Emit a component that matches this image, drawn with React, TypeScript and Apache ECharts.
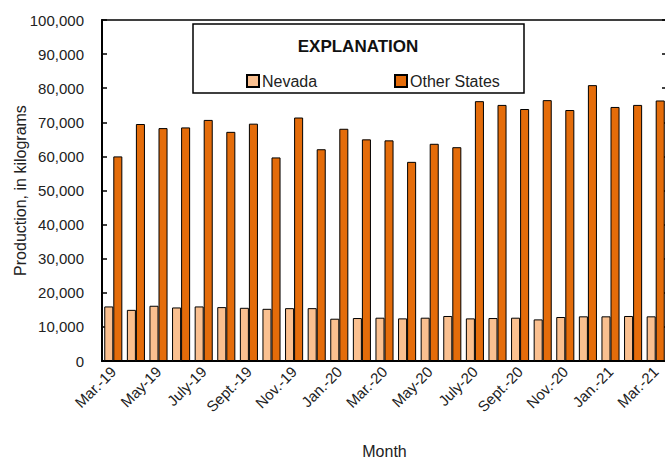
import React, { useEffect, useRef } from "react";
import * as echarts from "echarts";

const months = [
  "Mar.-19", "Apr.-19", "May-19", "June-19", "July-19", "Aug.-19", "Sept.-19", "Oct.-19", "Nov.-19", "Dec.-19",
  "Jan.-20", "Feb.-20", "Mar.-20", "Apr.-20", "May-20", "June-20", "July-20", "Aug.-20", "Sept.-20", "Oct.-20",
  "Nov.-20", "Dec.-20", "Jan.-21", "Feb.-21", "Mar.-21",
];

const nevada = [
  16000, 15000, 16200, 15700, 16000, 15800, 15600, 15300, 15500, 15500,
  12400, 12600, 12700, 12500, 12700, 13200, 12500, 12600, 12700, 12200,
  12900, 13100, 13100, 13200, 13100,
];

const otherStates = [
  60000, 69500, 68300, 68500, 70700, 67200, 69600, 59700, 71400, 62100,
  68100, 65000, 64700, 58400, 63700, 62700, 76200, 75100, 73900, 76500,
  73600, 80900, 74500, 75100, 76400,
];

const FONT = "'Liberation Sans', Arial, sans-serif";

export default function App() {
  const ref = useRef<HTMLDivElement>(null);
  useEffect(() => {
    if (!ref.current) return;
    const chart = echarts.init(ref.current, undefined, { renderer: "svg" });
    chart.setOption({
      animation: false,
      backgroundColor: "#ffffff",
      textStyle: { fontFamily: FONT },
      grid: {
        left: 102,
        top: 20,
        width: 565,
        height: 341,
        outerBoundsMode: "none",
        containLabel: false,
        show: true,
        borderColor: "#000",
        borderWidth: 1.5,
        backgroundColor: "transparent",
      },
      graphic: [
        {
          type: "rect",
          shape: { x: 193, y: 24, width: 331, height: 69 },
          style: { fill: "#fff", stroke: "#000", lineWidth: 1.5 },
          z: 10,
        },
        {
          type: "text",
          x: 358,
          y: 46,
          style: {
            text: "EXPLANATION",
            fontFamily: FONT,
            fontWeight: "bold",
            fontSize: 17,
            fill: "#111",
            align: "center",
            verticalAlign: "middle",
          },
          z: 11,
        },
      ],
      legend: [
        {
          data: ["Nevada"],
          left: 241,
          top: 68,
          itemWidth: 12,
          itemHeight: 12,
          icon: "rect",
          textStyle: { fontFamily: FONT, fontSize: 16, color: "#222", padding: [0, 0, 0, -2] },
          z: 12,
        },
        {
          data: ["Other States"],
          left: 389,
          top: 68,
          itemWidth: 12,
          itemHeight: 12,
          icon: "rect",
          textStyle: { fontFamily: FONT, fontSize: 16, color: "#222", padding: [0, 0, 0, -2] },
          z: 12,
        },
      ],
      xAxis: {
        type: "category",
        data: months,
        name: "Month",
        nameLocation: "middle",
        nameGap: 82,
        nameMoveOverlap: false,
        nameTextStyle: { fontFamily: FONT, fontSize: 16, color: "#222" },
        axisLine: { lineStyle: { color: "#000", width: 2 } },
        axisTick: { show: false },
        axisLabel: {
          interval: 1,
          rotate: 45,
          fontFamily: FONT,
          fontSize: 15,
          color: "#222",
          margin: 8,
        },
      },
      yAxis: [
        {
          type: "value",
          min: 0,
          max: 100000,
          interval: 10000,
          name: "Production, in kilograms",
          nameLocation: "middle",
          nameGap: 74,
          nameMoveOverlap: false,
          nameTextStyle: { fontFamily: FONT, fontSize: 16, color: "#222" },
          axisLine: { show: true, lineStyle: { color: "#000", width: 2 } },
          axisTick: { show: true, inside: true, length: 5, lineStyle: { color: "#000", width: 1.5 } },
          splitLine: { show: false },
          axisLabel: {
            fontFamily: FONT,
            fontSize: 15,
            color: "#222",
            margin: 18,
            formatter: (v: number) => v.toLocaleString("en-US"),
          },
        },
        {
          type: "value",
          position: "right",
          min: 0,
          max: 100000,
          interval: 10000,
          axisLine: { show: true, lineStyle: { color: "#000", width: 2 } },
          axisTick: { show: true, inside: true, length: 5, lineStyle: { color: "#000", width: 1.5 } },
          splitLine: { show: false },
          axisLabel: { show: false },
        },
      ],
      series: [
        {
          name: "Nevada",
          type: "bar",
          data: nevada,
          barGap: "0%",
          barCategoryGap: "20%",
          itemStyle: { color: "#FAC090", borderColor: "#000", borderWidth: 1 },
        },
        {
          name: "Other States",
          type: "bar",
          data: otherStates,
          barGap: "0%",
          barCategoryGap: "20%",
          itemStyle: { color: "#E46C0A", borderColor: "#000", borderWidth: 1 },
        },
      ],
    });
    return () => chart.dispose();
  }, []);
  return <div ref={ref} style={{ width: 665, height: 461, position: "absolute", left: 0, top: 0 }} />;
}
